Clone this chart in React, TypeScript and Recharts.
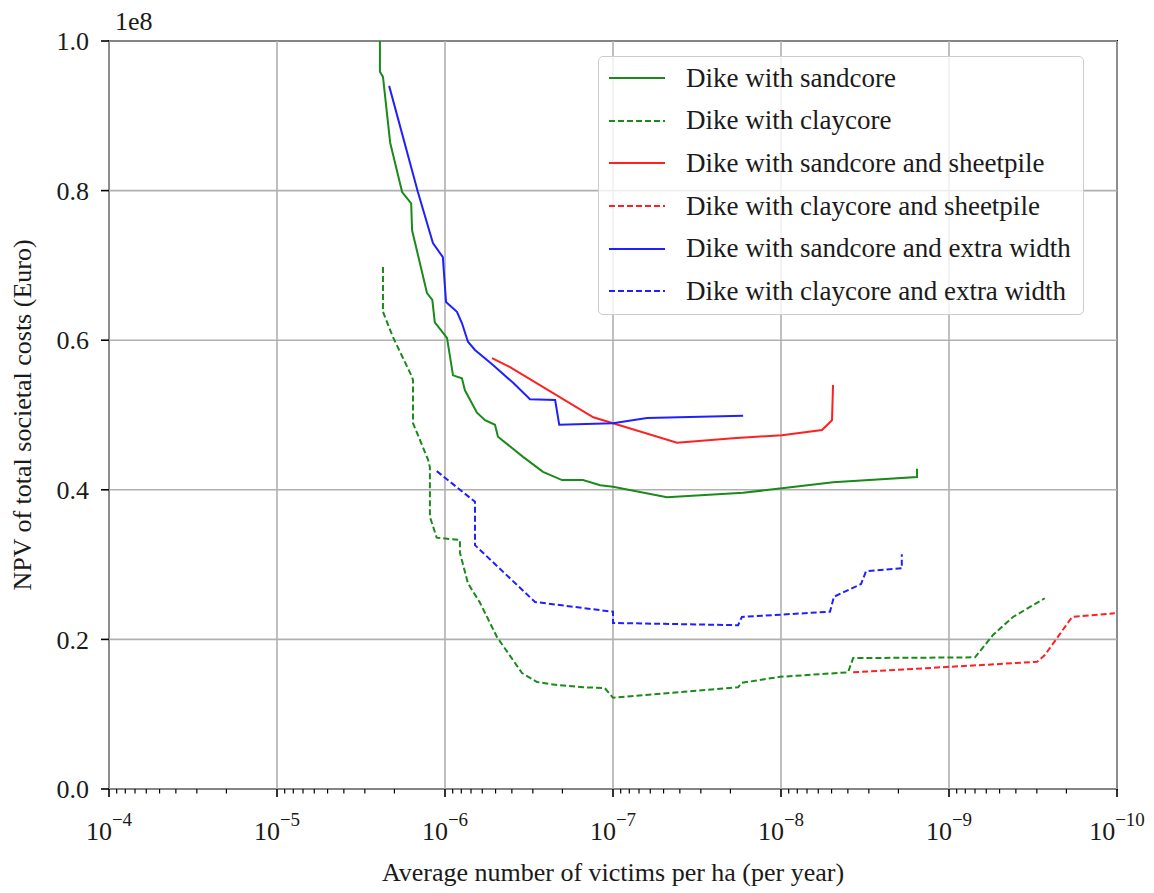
import React from "react";
import {
  LineChart,
  Line,
  XAxis,
  YAxis,
  ReferenceLine,
  ReferenceArea,
  Legend,
} from "recharts";

// victims per ha per year (x) and NPV of total societal costs in units of 1e8 Euro (y)
const sandcoreX = [2.44e-6, 2.44e-6, 2.34e-6, 2.12e-6, 1.8e-6, 1.59e-6, 1.57e-6, 1.28e-6, 1.19e-6, 1.15e-6, 9.73e-7, 8.96e-7, 7.93e-7, 7.61e-7, 6.45e-7, 5.78e-7, 5.04e-7, 4.84e-7, 3.43e-7, 2.61e-7, 2.01e-7, 1.51e-7, 1.19e-7, 1.0e-7, 4.77e-8, 1.68e-8, 9.87e-9, 4.9e-9, 1.55e-9, 1.55e-9];
const sandcoreY = [1.0, 0.959, 0.952, 0.864, 0.798, 0.783, 0.747, 0.663, 0.654, 0.624, 0.603, 0.553, 0.549, 0.533, 0.503, 0.493, 0.487, 0.471, 0.444, 0.424, 0.413, 0.413, 0.406, 0.404, 0.39, 0.396, 0.402, 0.41, 0.417, 0.428];

const claycoreX = [2.34e-6, 2.34e-6, 2.04e-6, 1.61e-6, 1.55e-6, 1.55e-6, 1.26e-6, 1.23e-6, 1.23e-6, 1.12e-6, 8.15e-7, 8.15e-7, 7.3e-7, 6.19e-7, 4.9e-7, 3.48e-7, 2.83e-7, 2.15e-7, 1.51e-7, 1.12e-7, 1.0e-7, 1.8e-8, 1.71e-8, 1.01e-8, 3.99e-9, 3.72e-9, 7.0e-10, 5.47e-10, 4.16e-10, 2.69e-10];
const claycoreY = [0.698, 0.638, 0.604, 0.556, 0.547, 0.489, 0.44, 0.43, 0.364, 0.336, 0.333, 0.316, 0.275, 0.249, 0.203, 0.155, 0.143, 0.139, 0.136, 0.135, 0.122, 0.136, 0.142, 0.15, 0.156, 0.175, 0.176, 0.206, 0.23, 0.255];

const sandSheetX = [5.25e-7, 4.1e-7, 1.31e-7, 1.0e-7, 4.16e-8, 1.93e-8, 9.87e-9, 5.7e-9, 4.97e-9, 4.9e-9];
const sandSheetY = [0.576, 0.564, 0.497, 0.489, 0.463, 0.469, 0.473, 0.48, 0.493, 0.54];

const claySheetX = [3.72e-9, 2.99e-10, 2.69e-10, 1.85e-10, 1.03e-10];
const claySheetY = [0.156, 0.17, 0.179, 0.23, 0.235];

const sandWidthX = [2.15e-6, 1.45e-6, 1.18e-6, 1.03e-6, 9.86e-7, 8.49e-7, 7.93e-7, 7.3e-7, 6.63e-7, 5.18e-7, 3.93e-7, 3.12e-7, 2.21e-7, 2.09e-7, 1.0e-7, 6.28e-8, 1.68e-8];
const sandWidthY = [0.94, 0.798, 0.73, 0.711, 0.651, 0.638, 0.623, 0.598, 0.587, 0.567, 0.543, 0.521, 0.52, 0.487, 0.489, 0.496, 0.499];

const clayWidthX = [1.12e-6, 6.63e-7, 6.63e-7, 2.91e-7, 1.0e-7, 1.0e-7, 1.8e-8, 1.71e-8, 5.11e-9, 4.84e-9, 3.34e-9, 3.12e-9, 1.91e-9, 1.91e-9];
const clayWidthY = [0.425, 0.384, 0.326, 0.25, 0.237, 0.222, 0.219, 0.23, 0.237, 0.257, 0.274, 0.291, 0.295, 0.314];

const decades = [1e-4, 1e-5, 1e-6, 1e-7, 1e-8, 1e-9, 1e-10];
const yTicks = [0, 0.2, 0.4, 0.6, 0.8, 1.0];

const FONT = "'Liberation Serif', 'Times New Roman', serif";
const TEXT = "#1a1a1a";

const zip = (xs: number[], ys: number[]) => xs.map((x, i) => ({ x, y: ys[i] }));

const series = [
  { name: "Dike with sandcore", color: "#1a8a1a", dashed: false, data: zip(sandcoreX, sandcoreY) },
  { name: "Dike with claycore", color: "#1a8a1a", dashed: true, data: zip(claycoreX, claycoreY) },
  { name: "Dike with sandcore and sheetpile", color: "#ff2020", dashed: false, data: zip(sandSheetX, sandSheetY) },
  { name: "Dike with claycore and sheetpile", color: "#ff2020", dashed: true, data: zip(claySheetX, claySheetY) },
  { name: "Dike with sandcore and extra width", color: "#2020ff", dashed: false, data: zip(sandWidthX, sandWidthY) },
  { name: "Dike with claycore and extra width", color: "#2020ff", dashed: true, data: zip(clayWidthX, clayWidthY) },
];

// major decades plus log minor ticks (2..9 x 10^k)
const xTicks: number[] = [];
decades.forEach((d, i) => {
  xTicks.push(d);
  if (i < decades.length - 1) {
    for (let m = 9; m >= 2; m--) xTicks.push(m * decades[i + 1]);
  }
});

const XTick = (props: any) => {
  const { x, y, payload } = props;
  const lg = Math.log10(payload.value);
  const exp = Math.round(lg);
  const major = Math.abs(lg - exp) < 1e-6;
  return (
    <g>
      <line x1={x} x2={x} y1={y} y2={y + (major ? 8 : 4.5)} stroke="#000" strokeWidth={major ? 1.6 : 1.2} />
      {major && (
        <text x={x} y={y + 51} textAnchor="middle" fontFamily={FONT} fontSize={26} fill={TEXT}>
          <tspan>10</tspan>
          <tspan dy={-14} fontSize={19}>{"\u2212" + Math.abs(exp)}</tspan>
        </text>
      )}
    </g>
  );
};

const YLabel = (props: any) => {
  const { viewBox } = props;
  const cx = viewBox.x + 14;
  const cy = viewBox.y + viewBox.height / 2;
  return (
    <g>
      <text
        x={cx}
        y={cy}
        transform={`rotate(-90, ${cx}, ${cy})`}
        textAnchor="middle"
        dominantBaseline="central"
        fontFamily={FONT}
        fontSize={26}
        fill={TEXT}
      >
        NPV of total societal costs (Euro)
      </text>
      <text x={viewBox.x + 107} y={viewBox.y - 11} fontFamily={FONT} fontSize={26} fill={TEXT}>
        1e8
      </text>
    </g>
  );
};

const LegendBox = () => (
  <div
    style={{
      width: 486,
      height: 259,
      border: "1px solid #cccccc",
      borderRadius: 5,
      background: "rgba(255,255,255,0.8)",
      fontFamily: FONT,
      fontSize: 27,
      color: TEXT,
      boxSizing: "border-box",
    }}
  >
    {series.map((s) => (
      <div key={s.name} style={{ height: 42.6, display: "flex", alignItems: "center" }}>
        <svg width={66} height={6} style={{ marginRight: 21 }}>
          <line
            x1={10}
            x2={66}
            y1={3}
            y2={3}
            stroke={s.color}
            strokeWidth={2}
            strokeDasharray={s.dashed ? "6 3" : undefined}
          />
        </svg>
        <span style={{ whiteSpace: "nowrap" }}>{s.name}</span>
      </div>
    ))}
  </div>
);

export default function App() {
  return (
    <LineChart width={1146} height={885} margin={{ top: 33, right: 37, left: 0, bottom: 0 }}>
      <XAxis
        dataKey="x"
        type="number"
        scale="log"
        domain={[1e-10, 1e-4]}
        reversed
        allowDataOverflow
        ticks={xTicks}
        interval={0}
        tick={<XTick />}
        tickLine={false}
        tickSize={0}
        tickMargin={0}
        axisLine={false}
        height={104}
        label={{
          value: "Average number of victims per ha (per year)",
          position: "insideBottom",
          offset: 12,
          style: { fontFamily: FONT, fontSize: 26, fill: TEXT },
        }}
      />
      <YAxis
        type="number"
        domain={[0, 1]}
        ticks={yTicks}
        interval={0}
        width={101}
        axisLine={false}
        tickLine={{ stroke: "#000", strokeWidth: 1.6 }}
        tickSize={8}
        tickMargin={12}
        tickFormatter={(v: number) => v.toFixed(1)}
        tick={{ fontFamily: FONT, fontSize: 26, fill: TEXT }}
        label={<YLabel />}
      />
      {decades.map((d) => (
        <ReferenceLine key={`vx-${d}`} x={d} stroke="#b0b0b0" strokeWidth={1.6} />
      ))}
      {yTicks.map((v) => (
        <ReferenceLine key={`hy-${v}`} y={v} stroke="#b0b0b0" strokeWidth={1.6} />
      ))}
      {series.map((s) => (
        <Line
          key={s.name}
          data={s.data}
          dataKey="y"
          name={s.name}
          type="linear"
          stroke={s.color}
          strokeWidth={2}
          strokeDasharray={s.dashed ? "6 3" : undefined}
          dot={false}
          activeDot={false}
          isAnimationActive={false}
        />
      ))}
      <ReferenceArea x1={1e-10} x2={1e-4} y1={0} y2={1} fill="none" stroke="#000" strokeWidth={2} ifOverflow="visible" />
      <Legend
        layout="vertical"
        align="center"
        verticalAlign="middle"
        wrapperStyle={{ left: 590, top: 48, width: 486 }}
        content={<LegendBox />}
      />
    </LineChart>
  );
}
